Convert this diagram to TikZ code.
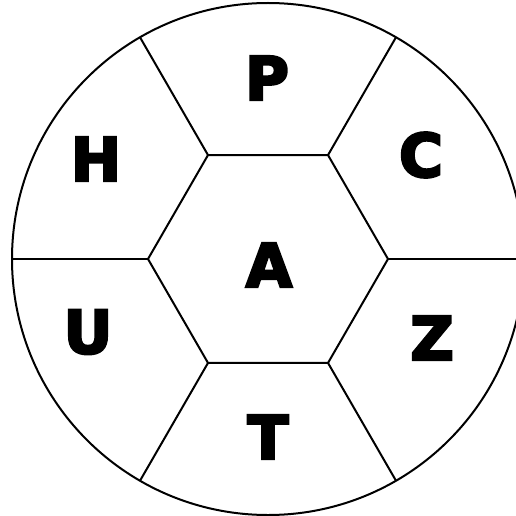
\documentclass[tikz,border=0pt]{standalone}
\usepackage{fontspec}
\setmainfont{DejaVu Sans}
\newfontfamily\heavyfont[FakeBold=4]{DejaVu Sans Bold}
\usetikzlibrary{shapes.geometric}

\begin{document}
\begin{tikzpicture}[x=1pt,y=-1pt,line width=2pt,
  lbl/.style={font=\fontsize{60}{60}\heavyfont,inner sep=0pt},
  rim/.style={draw,circle,minimum size=512pt,inner sep=0pt,outer sep=0pt},
  hexa/.style={draw,regular polygon,regular polygon sides=6,
    minimum size=240pt,inner sep=0pt,outer sep=0pt},
]
\useasboundingbox (0,0) rectangle (516,516);

% ============================================================
% Outer ring and centre hexagon
% ============================================================
\node[rim] (ring) at (268,259) {};
\node[hexa] (hex) at (268,259) {};

% Spokes from the hexagon corners to the ring
\foreach \a in {0,60,...,300}
  \draw (hex.\a) -- (ring.\a);

% ============================================================
% Letters
% ============================================================
\node[lbl] (A) at (269,265) {A};
\node[lbl] (P) at (267,78) {P};
\node[lbl] (C) at (421,155) {C};
\node[lbl] (Z) at (432,338) {Z};
\node[lbl] (T) at (268,437) {T};
\node[lbl] (U) at (88,332) {U};
\node[lbl] (H) at (96,159) {H};

\end{tikzpicture}
\end{document}
